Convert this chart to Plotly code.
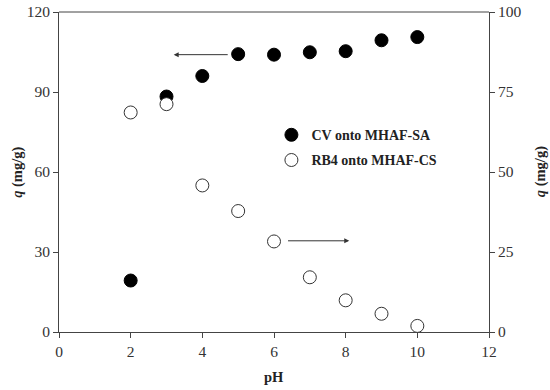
import plotly.graph_objects as go

ph = [2, 3, 4, 5, 6, 7, 8, 9, 10]
cv_q = [19.3, 88.3, 96.0, 104.2, 104.0, 104.9, 105.3, 109.4, 110.6]
rb4_q = [68.6, 71.2, 45.8, 37.8, 28.3, 17.1, 9.9, 5.7, 1.9]

FONT = "Liberation Serif, Times New Roman, serif"
fig = go.Figure()
fig.add_trace(go.Scatter(
    x=ph, y=cv_q, mode="markers", name="<b>CV onto MHAF-SA</b>", legendgroup="a",
    marker=dict(symbol="circle", size=13, color="black", line=dict(color="black", width=1)),
    yaxis="y"))
fig.add_trace(go.Scatter(
    x=ph, y=rb4_q, mode="markers", name="<b>RB4 onto MHAF-CS</b>", legendgroup="b",
    marker=dict(symbol="circle", size=13, color="white", line=dict(color="#333", width=1)),
    yaxis="y2"))

axis_common = dict(showgrid=False, zeroline=False, showline=True, linecolor="#444",
                   linewidth=1, ticks="outside", ticklen=5, tickcolor="#444", automargin=False,
                   tickfont=dict(family=FONT, size=15.5, color="#333"))

fig.update_layout(
    width=550, height=390,
    margin=dict(l=59, r=61, t=12, b=58),
    plot_bgcolor="white", paper_bgcolor="white",
    showlegend=True,
    legend=dict(x=0.494, y=0.665, xanchor="left", yanchor="top",
                font=dict(family=FONT, size=14, color="#222"),
                bgcolor="rgba(0,0,0,0)", tracegroupgap=4, itemwidth=30),
    xaxis=dict(range=[0, 12], tickvals=[0, 2, 4, 6, 8, 10, 12], **axis_common),
    yaxis=dict(range=[0, 120], tickvals=[0, 30, 60, 90, 120], **axis_common),
    yaxis2=dict(range=[0, 100], tickvals=[0, 25, 50, 75, 100], overlaying="y", side="right",
                **axis_common),
)
# top border line
fig.add_shape(type="line", xref="paper", yref="paper", x0=0, x1=1, y0=1, y1=1,
              line=dict(color="#444", width=1))

title_font = dict(family=FONT, size=14.5, color="#222")
fig.add_annotation(text="<b>pH</b>", xref="paper", yref="paper", x=0.5, y=-0.14,
                   showarrow=False, font=title_font, yanchor="middle")
fig.add_annotation(text="<b><i>q</i> (mg/g)</b>", xref="paper", yref="paper", x=-0.098, y=0.5,
                   showarrow=False, font=title_font, textangle=-90, xanchor="center")
fig.add_annotation(text="<b><i>q</i> (mg/g)</b>", xref="paper", yref="paper", x=1.119, y=0.5,
                   showarrow=False, font=title_font, textangle=-90, xanchor="center")

fig.add_annotation(x=3.2, y=104, ax=4.75, ay=104, xref="x", yref="y", axref="x", ayref="y",
                   showarrow=True, arrowhead=2, arrowsize=1, arrowwidth=1, arrowcolor="#333", text="")
fig.add_annotation(x=8.1, y=28.5, ax=6.35, ay=28.5, xref="x", yref="y2", axref="x", ayref="y2",
                   showarrow=True, arrowhead=2, arrowsize=1, arrowwidth=1, arrowcolor="#333", text="")

fig.write_html("out.html", config={"displayModeBar": False},
               post_script="document.body.style.margin='0';document.body.style.padding='0';")
